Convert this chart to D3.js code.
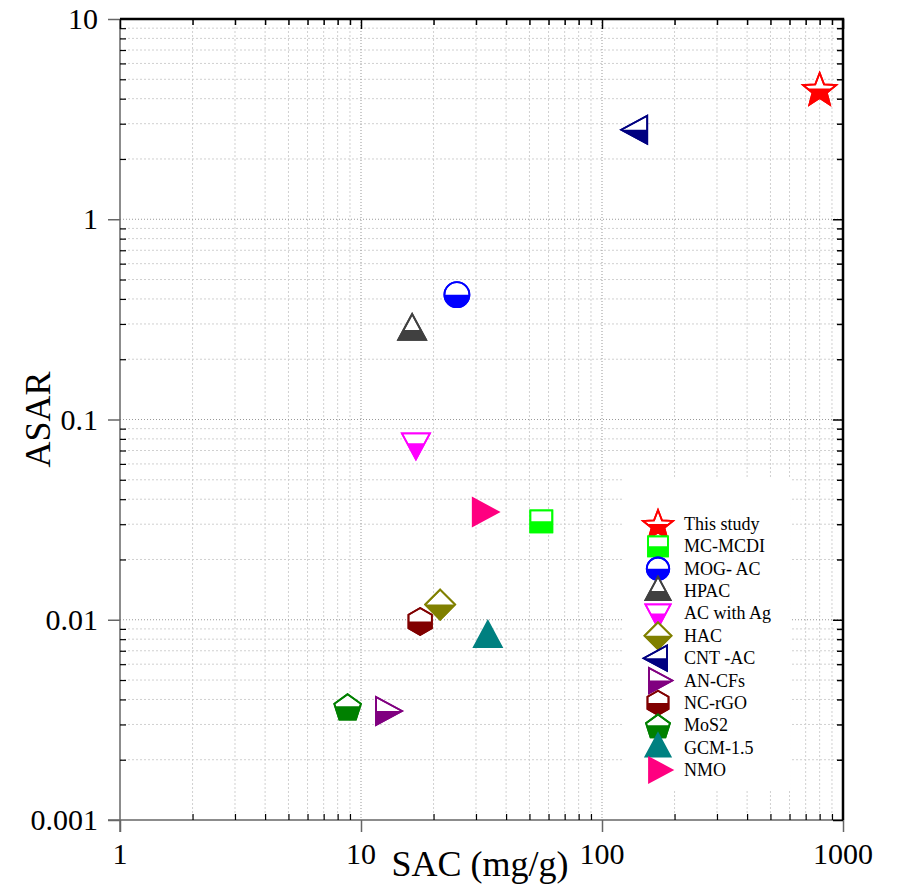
<!DOCTYPE html>
<html>
<head>
<meta charset="utf-8">
<script src="https://cdn.jsdelivr.net/npm/d3@7"></script>
<style>
  body { margin: 0; background: #fff; }
  text { font-family: "Liberation Serif", "DejaVu Serif", serif; }
</style>
</head>
<body>
<div id="chart"></div>
<script>
// data
const labels = ["This study", "MC-MCDI", "MOG- AC", "HPAC", "AC with Ag", "HAC",
  "CNT -AC", "AN-CFs", "NC-rGO", "MoS2", "GCM-1.5", "NMO"];
const sac = [800, 56, 25, 16.3, 16.9, 21.3, 140, 12.7, 17.6, 8.8, 33.6, 32];
const asar = [4.5, 0.031, 0.42, 0.28, 0.076, 0.0119, 2.8, 0.0035, 0.0098, 0.0037, 0.0082, 0.0345];
const colors = ["#ff0000", "#00ff00", "#0000ff", "#404040", "#ff00ff", "#808000",
  "#000080", "#800080", "#800000", "#008000", "#008080", "#ff0080"];
const shapes = ["star", "square", "circle", "up", "down", "diamond",
  "left", "right", "hexagon", "pentagon", "up", "right"];
const halfFilled = [true, true, true, true, true, true, true, true, true, true, false, false];
const xTicks = [1, 10, 100, 1000];
const yTicks = [0.001, 0.01, 0.1, 1, 10];

const width = 898, height = 886;
const plotLeft = 120, plotRight = 843, plotTop = 19, plotBottom = 820;

const svg = d3.select("#chart").append("svg")
  .attr("width", width)
  .attr("height", height);

const x = d3.scaleLog().domain([1, 1000]).range([plotLeft, plotRight]);
const y = d3.scaleLog().domain([0.001, 10]).range([plotBottom, plotTop]);

// all minor ticks of the log scales
function minors(lo, hi) {
  const out = [];
  for (let d = lo; d < hi * 0.99; d *= 10) {
    for (let k = 2; k <= 9; k++) out.push(d * k);
  }
  return out;
}
const xMinor = minors(1, 1000);
const yMinor = minors(0.001, 10);

/**
 * Grid
 */
const grid = svg.append("g");
grid.selectAll(".xmin").data(xMinor).enter().append("line")
  .attr("x1", d => x(d)).attr("x2", d => x(d))
  .attr("y1", plotTop).attr("y2", plotBottom)
  .attr("stroke", "#d0d0d0").attr("stroke-dasharray", "2,2");
grid.selectAll(".ymin").data(yMinor).enter().append("line")
  .attr("y1", d => y(d)).attr("y2", d => y(d))
  .attr("x1", plotLeft).attr("x2", plotRight)
  .attr("stroke", "#d0d0d0").attr("stroke-dasharray", "2,2");
grid.selectAll(".xmaj").data(xTicks.slice(1, -1)).enter().append("line")
  .attr("x1", d => x(d)).attr("x2", d => x(d))
  .attr("y1", plotTop).attr("y2", plotBottom)
  .attr("stroke", "#999").attr("stroke-dasharray", "1,2");
grid.selectAll(".ymaj").data(yTicks.slice(1, -1)).enter().append("line")
  .attr("y1", d => y(d)).attr("y2", d => y(d))
  .attr("x1", plotLeft).attr("x2", plotRight)
  .attr("stroke", "#999").attr("stroke-dasharray", "1,2");

/**
 * Legend background
 */
svg.append("rect")
  .attr("x", 623).attr("y", 478)
  .attr("width", 167).attr("height", 312)
  .attr("fill", "#fff");

/**
 * Axes
 */
const axisColor = "#666";
const fmt = d => d3.format("~g")(d);

// bottom: major outward, minor inward
svg.append("g")
  .attr("transform", `translate(0,${plotBottom})`)
  .call(d3.axisBottom(x).tickValues(xTicks).tickFormat("").tickSize(12))
  .call(g => g.selectAll("line,path").attr("stroke", axisColor).attr("stroke-width", 1.5))
  .call(g => g.select(".domain").attr("d", `M${plotLeft - 12},0H${plotRight}`));
svg.append("g")
  .attr("transform", `translate(0,${plotBottom})`)
  .call(d3.axisTop(x).tickValues(xMinor).tickFormat("").tickSize(6))
  .call(g => g.select(".domain").remove())
  .call(g => g.selectAll("line").attr("stroke", "#000").attr("stroke-width", 1.2));
svg.selectAll(".xlab").data(xTicks).enter().append("text")
  .attr("x", d => x(d)).attr("y", 864)
  .attr("text-anchor", "middle")
  .attr("font-size", 30)
  .text(fmt);

// left: major outward, minor inward
svg.append("g")
  .attr("transform", `translate(${plotLeft},0)`)
  .call(d3.axisLeft(y).tickValues(yTicks).tickFormat("").tickSize(12))
  .call(g => g.selectAll("line,path").attr("stroke", axisColor).attr("stroke-width", 1.5))
  .call(g => g.select(".domain").attr("d", `M0,${plotTop}V${plotBottom + 12}`));
svg.append("g")
  .attr("transform", `translate(${plotLeft},0)`)
  .call(d3.axisRight(y).tickValues(yMinor).tickFormat("").tickSize(6))
  .call(g => g.select(".domain").remove())
  .call(g => g.selectAll("line").attr("stroke", "#000").attr("stroke-width", 1.2));
svg.selectAll(".ylab").data(yTicks).enter().append("text")
  .attr("x", 98).attr("y", d => y(d) + 10)
  .attr("text-anchor", "end")
  .attr("font-size", 30)
  .text(d => d3.format("~f")(d));

// top and right frame with inward ticks
svg.append("g")
  .attr("transform", `translate(0,${plotTop})`)
  .call(d3.axisBottom(x).tickValues(xMinor).tickFormat("").tickSizeInner(6).tickSizeOuter(0))
  .call(g => g.select(".domain").remove())
  .call(g => g.selectAll("line").attr("stroke", "#000").attr("stroke-width", 1.5));
svg.append("g")
  .attr("transform", `translate(0,${plotTop})`)
  .call(d3.axisBottom(x).tickValues(xTicks).tickFormat("").tickSizeInner(10).tickSizeOuter(0))
  .call(g => g.select(".domain").remove())
  .call(g => g.selectAll("line").attr("stroke", "#000").attr("stroke-width", 1.5));
svg.append("g")
  .attr("transform", `translate(${plotRight},0)`)
  .call(d3.axisLeft(y).tickValues(yMinor).tickFormat("").tickSizeInner(6).tickSizeOuter(0))
  .call(g => g.select(".domain").remove())
  .call(g => g.selectAll("line").attr("stroke", "#000").attr("stroke-width", 1.5));
svg.append("g")
  .attr("transform", `translate(${plotRight},0)`)
  .call(d3.axisLeft(y).tickValues(yTicks).tickFormat("").tickSizeInner(10).tickSizeOuter(0))
  .call(g => g.select(".domain").remove())
  .call(g => g.selectAll("line").attr("stroke", "#000").attr("stroke-width", 1.5));
svg.append("path")
  .attr("d", `M${plotLeft},${plotTop}H${plotRight}V${plotBottom}`)
  .attr("fill", "none").attr("stroke", "#000").attr("stroke-width", 2.5);

// axis titles
svg.append("text")
  .attr("transform", `translate(50,${(plotTop + plotBottom) / 2}) rotate(-90)`)
  .attr("text-anchor", "middle")
  .attr("font-size", 36)
  .text("ASAR");
svg.append("text")
  .attr("x", 480).attr("y", 876)
  .attr("text-anchor", "middle")
  .attr("font-size", 36)
  .text("SAC (mg/g)");

/**
 * Marker shapes
 */
function poly(pts) {
  return "M" + pts.map(p => p[0].toFixed(2) + "," + p[1].toFixed(2)).join("L") + "Z";
}
function regular(n, r, rot) {
  const pts = [];
  for (let i = 0; i < n; i++) {
    const a = rot + i * 2 * Math.PI / n;
    pts.push([r * Math.sin(a), -r * Math.cos(a)]);
  }
  return pts;
}
function shapePath(s) {
  switch (s) {
    case "star": {
      const pts = [];
      for (let i = 0; i < 10; i++) {
        const r = i % 2 ? 7.5 : 17.5;
        const a = i * Math.PI / 5;
        pts.push([r * Math.sin(a), -r * Math.cos(a) + 2]);
      }
      return poly(pts);
    }
    case "square": return poly([[-11, -11], [11, -11], [11, 11], [-11, 11]]);
    case "circle": return "M-12.5,0A12.5,12.5 0 1,1 12.5,0A12.5,12.5 0 1,1 -12.5,0Z";
    case "up": return poly([[0, -16], [14, 10], [-14, 10]]);
    case "down": return poly([[0, 16], [14, -10], [-14, -10]]);
    case "left": return poly([[-16, 0], [10, -14], [10, 14]]);
    case "right": return poly([[16, 0], [-10, -14], [-10, 14]]);
    case "diamond": return poly([[0, -15], [15, 0], [0, 15], [-15, 0]]);
    case "hexagon": return poly(regular(6, 13.5, 0));
    case "pentagon": return poly(regular(5, 14, 0).map(p => [p[0], p[1] + 2]));
  }
}

const defs = svg.append("defs");
defs.append("clipPath").attr("id", "lowerHalf")
  .append("rect").attr("x", -30).attr("y", 0).attr("width", 60).attr("height", 30);

function drawMarker(g, i, scale) {
  const d = shapePath(shapes[i]);
  const sw = 1.8 / scale;
  if (halfFilled[i]) {
    g.append("path").attr("d", d)
      .attr("fill", "#fff").attr("stroke", colors[i]).attr("stroke-width", sw);
    g.append("path").attr("d", d)
      .attr("fill", colors[i]).attr("clip-path", "url(#lowerHalf)");
    g.append("path").attr("d", d)
      .attr("fill", "none").attr("stroke", colors[i]).attr("stroke-width", sw);
  } else {
    g.append("path").attr("d", d)
      .attr("fill", colors[i]).attr("stroke", colors[i]).attr("stroke-width", sw);
  }
}

/**
 * Points
 */
sac.forEach((v, i) => {
  const g = svg.append("g")
    .attr("transform", `translate(${x(v)},${y(asar[i])})`);
  drawMarker(g, i, 1);
});

/**
 * Legend
 */
const legendY = d3.scaleLinear().domain([0, labels.length - 1]).range([524, 770]);
labels.forEach((name, i) => {
  const g = svg.append("g")
    .attr("transform", `translate(658,${legendY(i)}) scale(0.9)`);
  drawMarker(g, i, 0.9);
  svg.append("text")
    .attr("x", 684).attr("y", legendY(i) + 6)
    .attr("font-size", 18)
    .text(name);
});
</script>
</body>
</html>
